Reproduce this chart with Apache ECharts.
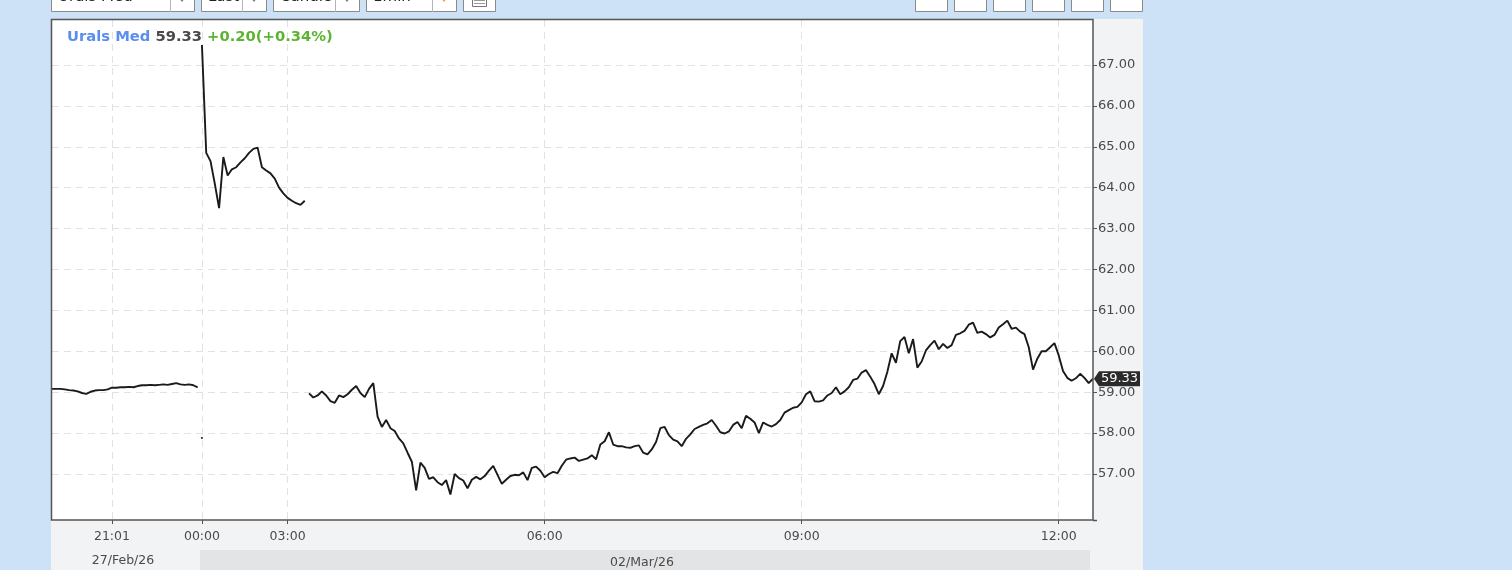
<!DOCTYPE html>
<html><head><meta charset="utf-8">
<script src="https://cdn.jsdelivr.net/npm/echarts@6/dist/echarts.min.js"></script>
<style>html,body{margin:0;padding:0;background:#cde1f7;}#c{width:1512px;height:570px;}</style>
</head><body><div id="c"></div>
<script>
// ---- data ----
const categories = [
"20:19","20:22","20:25","20:28","20:31","20:34","20:37","20:40","20:43","20:46","20:49","20:52","20:55","20:58","21:01","21:04","21:07","21:10","21:13","21:16","21:19","21:22","21:25","21:28","21:31","21:34","21:37","21:40","21:43","21:46","21:49","21:52","21:55","21:58","22:01",
"00:00","00:09","00:18","00:27","00:36","00:45","00:54","01:03","01:12","01:21","01:30","01:39","01:48","01:57","02:06","02:15","02:24","02:33","02:42","02:51",
"03:00","03:03","03:06","03:09","03:12","03:15","03:18","03:21","03:24","03:27","03:30","03:33","03:36","03:39","03:42","03:45","03:48","03:51","03:54","03:57",
"04:00","04:03","04:06","04:09","04:12","04:15","04:18","04:21","04:24","04:27","04:30","04:33","04:36","04:39","04:42","04:45","04:48","04:51","04:54","04:57",
"05:00","05:03","05:06","05:09","05:12","05:15","05:18","05:21","05:24","05:27","05:30","05:33","05:36","05:39","05:42","05:45","05:48","05:51","05:54","05:57",
"06:00","06:03","06:06","06:09","06:12","06:15","06:18","06:21","06:24","06:27","06:30","06:33","06:36","06:39","06:42","06:45","06:48","06:51","06:54","06:57",
"07:00","07:03","07:06","07:09","07:12","07:15","07:18","07:21","07:24","07:27","07:30","07:33","07:36","07:39","07:42","07:45","07:48","07:51","07:54","07:57",
"08:00","08:03","08:06","08:09","08:12","08:15","08:18","08:21","08:24","08:27","08:30","08:33","08:36","08:39","08:42","08:45","08:48","08:51","08:54","08:57",
"09:00","09:03","09:06","09:09","09:12","09:15","09:18","09:21","09:24","09:27","09:30","09:33","09:36","09:39","09:42","09:45","09:48","09:51","09:54","09:57",
"10:00","10:03","10:06","10:09","10:12","10:15","10:18","10:21","10:24","10:27","10:30","10:33","10:36","10:39","10:42","10:45","10:48","10:51","10:54","10:57",
"11:00","11:03","11:06","11:09","11:12","11:15","11:18","11:21","11:24","11:27","11:30","11:33","11:36","11:39","11:42","11:45","11:48","11:51","11:54","11:57",
"12:00","12:03","12:06","12:09","12:12","12:15","12:18","12:21","12:24"
];
const xTickIndex = [14, 35, 55, 115, 175, 235];
const dateLabels = ["27/Feb/26", "02/Mar/26"];

// Friday evening session (indices 0..34)
const fridayValues = [59.08,59.08,59.08,59.07,59.05,59.04,59.02,58.98,58.96,59.01,59.04,59.05,59.05,59.07,59.11,59.11,59.12,59.12,59.13,59.12,59.15,59.17,59.17,59.18,59.17,59.18,59.19,59.18,59.20,59.22,59.19,59.18,59.19,59.17,59.12];
// Monday overnight prints (start index 35)
const overnightStart = 35;
const overnightValues = [67.49,64.85,64.65,64.10,63.50,64.75,64.30,64.45,64.50,64.62,64.72,64.85,64.95,64.98,64.50,64.42,64.35,64.22,64.00,63.86,63.75,63.68,63.62,63.58,63.68];
// stray single print
const strayIndex = 35;
const strayValue = 57.88;
// Monday main session (start index 60)
const sessionStart = 60;
const sessionValues = [
58.97,58.87,58.92,59.02,58.92,58.78,58.74,58.92,58.88,58.95,
59.06,59.15,58.98,58.88,59.08,59.22,58.40,58.15,58.32,58.12,
58.05,57.87,57.75,57.52,57.30,56.60,57.28,57.15,56.88,56.92,
56.80,56.73,56.85,56.50,57.00,56.90,56.84,56.65,56.86,56.93,
56.87,56.95,57.08,57.20,56.98,56.76,56.86,56.95,56.98,56.97,
57.04,56.85,57.15,57.18,57.08,56.92,57.00,57.05,57.02,57.20,
57.35,57.38,57.40,57.32,57.35,57.38,57.46,57.36,57.72,57.80,
58.02,57.72,57.68,57.68,57.65,57.64,57.68,57.70,57.52,57.48,
57.60,57.78,58.12,58.15,57.95,57.84,57.80,57.68,57.86,57.97,
58.10,58.15,58.20,58.24,58.32,58.18,58.02,57.99,58.04,58.20,
58.27,58.12,58.42,58.35,58.26,58.00,58.26,58.20,58.16,58.22,
58.32,58.50,58.56,58.62,58.64,58.75,58.95,59.02,58.78,58.77,
58.80,58.92,58.98,59.12,58.95,59.02,59.12,59.30,59.33,59.48,
59.54,59.38,59.20,58.95,59.15,59.50,59.95,59.72,60.25,60.35,
59.95,60.30,59.60,59.75,60.02,60.15,60.26,60.05,60.18,60.08,
60.15,60.40,60.44,60.50,60.65,60.70,60.45,60.48,60.42,60.34,
60.40,60.58,60.66,60.75,60.55,60.58,60.48,60.42,60.10,59.55,
59.82,60.00,60.00,60.10,60.20,59.90,59.52,59.35,59.28,59.34,
59.45,59.35,59.22,59.33
];
const lastPrice = "59.33";
const change = "+0.20(+0.34%)";
const instrument = "Urals Med";
const toolbarLabels = ["Urals Med", "Last", "Candle", "1min"];

const yMin = 55.875, yMax = 68.1;   // visible plot range
const yLabelMin = 57, yLabelMax = 67; // labelled range

// ---- chart ----
const chart = echarts.init(document.getElementById('c'), null, {renderer: 'canvas'});
const FONT = 'DejaVu Sans';
const gridCol = '#e2e2e2';
const axisCol = '#555';
const labelCol = '#4a4a4a';

function boxes() {
  const els = [];
  const dd = [[51,194,170],[201,266,242],[273,359,335],[366,456,432]];
  dd.forEach((b, k) => {
    els.push({type:'rect', shape:{x:b[0]+0.5, y:-20.5, width:b[1]-b[0], height:32}, style:{fill:'#fff', stroke:'#8a8a8a', lineWidth:1}, z:5});
    els.push({type:'line', shape:{x1:b[2]+0.5, y1:-20, x2:b[2]+0.5, y2:12}, style:{stroke:'#b5b5b5', lineWidth:1}, z:6});
    els.push({type:'text', x:b[0]+7, y:5, style:{text:toolbarLabels[k], fill:'#222', font:'15px ' + FONT, verticalAlign:'bottom'}, z:6});
    els.push({type:'polygon', shape:{points:[[ (b[2]+b[1])/2-3, -2],[ (b[2]+b[1])/2+3, -2],[ (b[2]+b[1])/2, 2]]}, style:{fill: k===3 ? '#f0a030' : '#777'}, z:6});
  });
  els.push({type:'rect', shape:{x:463.5, y:-20.5, width:32, height:32}, style:{fill:'#fff', stroke:'#8a8a8a', lineWidth:1}, z:5});
  els.push({type:'rect', shape:{x:472.5, y:-4.5, width:14, height:11}, style:{fill:'none', stroke:'#777', lineWidth:1}, z:6});
  els.push({type:'line', shape:{x1:474, y1:0.5, x2:485, y2:0.5}, style:{stroke:'#999', lineWidth:1}, z:6});
  els.push({type:'line', shape:{x1:474, y1:3.5, x2:485, y2:3.5}, style:{stroke:'#999', lineWidth:1}, z:6});
  [915,954,993,1032,1071,1110].forEach(x => {
    els.push({type:'rect', shape:{x:x+0.5, y:-20.5, width:32, height:32}, style:{fill:'#fff', stroke:'#8a8a8a', lineWidth:1}, z:5});
  });
  return els;
}

const graphics = [
  // panel backgrounds
  {type:'rect', shape:{x:1093, y:19, width:50, height:531}, style:{fill:'#f2f3f5'}, z:-10},
  {type:'rect', shape:{x:51, y:520, width:1092, height:30}, style:{fill:'#f2f3f5'}, z:-10},
  {type:'rect', shape:{x:51, y:550, width:1092, height:20}, style:{fill:'#f2f3f5'}, z:-10},
  {type:'rect', shape:{x:200, y:550, width:890, height:20}, style:{fill:'#e3e4e6'}, z:-9},
  {type:'text', x:123, y:561, style:{text:dateLabels[0], fill:labelCol, font:'12.5px ' + FONT, align:'center', verticalAlign:'middle'}, z:5},
  {type:'text', x:642, y:563, style:{text:dateLabels[1], fill:labelCol, font:'12.5px ' + FONT, align:'center', verticalAlign:'middle'}, z:5},
  // plot frame
  {type:'rect', shape:{x:51.5, y:19.5, width:1041.5, height:500.5}, style:{fill:'none', stroke:'#555', lineWidth:1.5}, z:100},
  {type:'line', shape:{x1:1093, y1:520.5, x2:1097, y2:520.5}, style:{stroke:'#555', lineWidth:1.5}, z:100}
].concat(boxes());

const tickFn = (idx) => xTickIndex.indexOf(idx) >= 0;

chart.setOption({
  animation: false,
  backgroundColor: '#cde1f7',
  title: {
    left: 67, top: 28, padding: 0,
    text: '{a|' + instrument + '} {b|' + lastPrice + '} {c|' + change + '}',
    textStyle: {
      rich: {
        a: {color:'#5b8cf0', fontWeight:'bold', fontSize:14.75, fontFamily:FONT},
        b: {color:'#4a4a4a', fontWeight:'bold', fontSize:14.75, fontFamily:FONT},
        c: {color:'#5cb531', fontWeight:'bold', fontSize:14.75, fontFamily:FONT}
      }
    }
  },
  grid: [
    {left:52, right:1512-1093, top:20, bottom:50, show:true, backgroundColor:'#ffffff', borderWidth:0},
    {left:52, right:1512-1093, top:65, bottom:96, show:false}
  ],
  xAxis: [
    {
      gridIndex:0, type:'category', data:categories, boundaryGap:false,
      axisLine:{show:false},
      axisTick:{show:true, interval:tickFn, length:4, lineStyle:{color:axisCol, width:1}},
      axisLabel:{show:true, interval:tickFn, color:labelCol, fontSize:12.5, fontFamily:FONT, margin:10},
      splitLine:{show:true, interval:tickFn, lineStyle:{color:gridCol, type:[7,5], width:1}}
    },
    {gridIndex:1, type:'category', data:categories, boundaryGap:false, show:false}
  ],
  yAxis: [
    {gridIndex:0, type:'value', min:yMin, max:yMax, show:false, splitLine:{show:false}},
    {
      gridIndex:1, type:'value', position:'right', min:yLabelMin, max:yLabelMax, interval:1,
      axisLine:{show:false},
      axisTick:{show:true, length:4, lineStyle:{color:axisCol, width:1}},
      axisLabel:{color:labelCol, fontSize:13, fontFamily:FONT, margin:5, padding:[3,0,0,0], formatter:(v)=>v.toFixed(2)},
      splitLine:{show:true, lineStyle:{color:gridCol, type:[7,5], width:1}}
    }
  ],
  graphic: {elements: graphics},
  series: [
    {type:'line', name:'fri', xAxisIndex:0, yAxisIndex:0, data:fridayValues, showSymbol:false, symbol:'none',
      lineStyle:{color:'#1a1a1a', width:1.9}, z:5},
    {type:'line', name:'overnight', xAxisIndex:0, yAxisIndex:0, data:overnightValues.map((v,k)=>[overnightStart+k, v]), showSymbol:false, symbol:'none',
      lineStyle:{color:'#1a1a1a', width:1.9}, z:5},
    {type:'line', name:'session', xAxisIndex:0, yAxisIndex:0, data:sessionValues.map((v,k)=>[sessionStart+k, v]), showSymbol:false, symbol:'none',
      lineStyle:{color:'#1a1a1a', width:1.9}, z:5},
    {type:'scatter', name:'stray', xAxisIndex:0, yAxisIndex:0, data:[[strayIndex, strayValue]], symbol:'rect', symbolSize:[2,2],
      itemStyle:{color:'#222'}, z:5}
  ]
});

// last price tag on the right axis
const py = chart.convertToPixel({yAxisIndex:0}, parseFloat(lastPrice));
chart.setOption({
  graphic: {elements: [
    {id:'tagShape', type:'polygon', shape:{points:[[1094,py],[1099,py-7.5],[1140,py-7.5],[1140,py+7.5],[1099,py+7.5]]}, style:{fill:'#2a2a2a'}, z:110},
    {id:'tagText', type:'text', x:1119.5, y:py, style:{text:lastPrice, fill:'#fff', font:'13px ' + FONT, align:'center', verticalAlign:'middle'}, z:111}
  ]}
});
</script></body></html>
